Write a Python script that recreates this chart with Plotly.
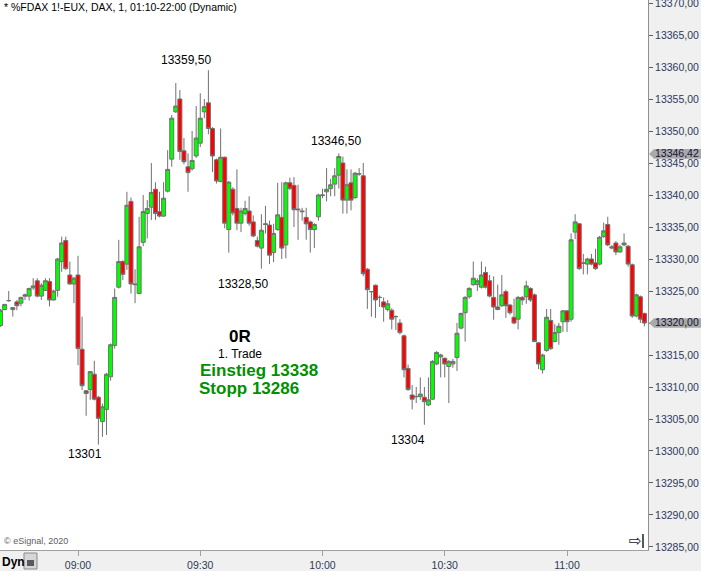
import pandas as pd
import plotly.graph_objects as go

# ---------------- data (1-minute FDAX bars) ----------------
start_time = "2020-11-18 08:41"

opens = [13319.6, 13322.1, 13323.5, 13322.1, 13323.3, 13323.1, 13324.4, 13324.2, 13325.5, 13326.6,
         13324.2, 13325.1, 13326.5, 13323.6, 13325.1, 13329.6, 13332.9, 13327.5, 13326.1, 13327.5,
         13315.9, 13309.4, 13309.6, 13312.0, 13308.4, 13304.6, 13306.5, 13311.6, 13316.5, 13325.6,
         13329.6, 13329.2, 13339.0, 13326.1, 13324.6, 13332.6, 13337.1, 13338.1, 13340.9, 13337.4,
         13336.7, 13340.6, 13345.6, 13353.0, 13355.0, 13346.9, 13344.4, 13344.1, 13346.1, 13348.1,
         13353.0, 13354.4, 13350.4, 13345.5, 13342.1, 13345.9, 13334.6, 13340.9, 13337.9, 13335.6,
         13337.1, 13337.5, 13335.8, 13332.9, 13331.7, 13335.5, 13335.3, 13331.0, 13334.6, 13336.5,
         13332.2, 13341.9, 13341.5, 13337.8, 13337.5, 13336.5, 13335.8, 13334.6, 13336.6, 13339.9,
         13340.5, 13341.0, 13341.7, 13343.1, 13345.0, 13339.2, 13341.9, 13339.6, 13343.3, 13343.0,
         13328.4, 13324.9, 13325.9, 13324.0, 13323.3, 13322.1, 13322.0, 13321.0, 13320.0, 13318.0,
         13312.9, 13308.75, 13308.5, 13308.5, 13308.4, 13307.2, 13308.1, 13313.6, 13314.7, 13314.5,
         13313.2, 13313.6, 13314.6, 13319.2, 13321.6, 13324.1, 13326.0, 13326.0, 13325.6, 13327.9,
         13326.6, 13324.0, 13322.5, 13322.7, 13324.9, 13322.8, 13320.9, 13320.6, 13324.0, 13324.1,
         13325.4, 13324.4, 13316.9, 13312.7, 13315.7, 13320.4, 13317.1, 13318.5, 13320.2, 13321.9,
         13320.6, 13334.2, 13335.5, 13329.4, 13329.2, 13330.0, 13329.4, 13329.2, 13333.5, 13335.4,
         13331.7, 13332.5, 13331.1, 13332.2, 13332.0, 13329.1, 13321.1, 13324.1, 13321.5]

highs = [13322.2, 13323.0, 13325.0, 13322.5, 13323.6, 13324.1, 13324.6, 13325.5, 13327.0, 13327.0,
         13326.2, 13327.0, 13327.0, 13325.2, 13330.2, 13333.5, 13333.5, 13329.6, 13327.2, 13330.5,
         13321.0, 13309.5, 13312.5, 13314.1, 13308.6, 13307.4, 13312.2, 13316.8, 13325.4, 13333.0,
         13329.8, 13340.5, 13339.6, 13328.4, 13336.6, 13340.0, 13339.2, 13345.0, 13342.0, 13340.5,
         13342.0, 13347.0, 13352.5, 13357.5, 13356.4, 13348.9, 13346.5, 13350.0, 13353.9, 13355.9,
         13355.0, 13359.5, 13350.6, 13345.7, 13350.4, 13346.0, 13342.2, 13341.2, 13344.0, 13338.0,
         13339.1, 13339.8, 13336.8, 13333.5, 13337.0, 13338.3, 13336.0, 13335.5, 13341.9, 13342.0,
         13342.1, 13342.7, 13342.8, 13341.6, 13338.0, 13338.0, 13336.0, 13335.6, 13340.2, 13341.0,
         13344.2, 13342.5, 13344.2, 13346.5, 13346.0, 13344.0, 13344.0, 13343.6, 13344.2, 13345.0,
         13328.6, 13325.0, 13326.0, 13324.3, 13324.0, 13323.6, 13322.3, 13321.2, 13320.6, 13318.2,
         13313.5, 13310.3, 13310.0, 13311.5, 13310.0, 13311.5, 13314.2, 13315.6, 13315.2, 13314.6,
         13314.2, 13314.4, 13320.0, 13321.6, 13324.2, 13325.6, 13329.6, 13327.0, 13329.6, 13328.8,
         13327.5, 13327.3, 13326.0, 13327.5, 13325.2, 13323.0, 13323.8, 13324.2, 13324.2, 13326.6,
         13325.6, 13324.6, 13317.0, 13315.2, 13322.2, 13322.2, 13319.8, 13320.0, 13322.0, 13322.0,
         13334.0, 13337.0, 13335.6, 13330.8, 13330.2, 13330.8, 13331.6, 13333.6, 13335.7, 13336.6,
         13332.2, 13332.8, 13332.2, 13334.0, 13332.2, 13329.3, 13324.6, 13324.3, 13321.6]

lows = [13319.4, 13322.0, 13323.3, 13321.0, 13322.0, 13322.6, 13323.6, 13323.5, 13325.2, 13324.0,
        13323.6, 13325.0, 13322.6, 13323.5, 13324.1, 13328.0, 13328.3, 13326.0, 13323.1, 13313.4,
        13309.5, 13305.5, 13308.0, 13307.9, 13301.0, 13302.2, 13302.5, 13311.0, 13316.0, 13325.4,
        13326.7, 13328.3, 13324.6, 13323.1, 13324.5, 13332.0, 13333.2, 13336.1, 13336.1, 13336.5,
        13336.6, 13340.4, 13344.4, 13352.8, 13345.5, 13344.8, 13340.5, 13343.8, 13345.8, 13347.5,
        13352.0, 13349.5, 13343.6, 13341.8, 13342.0, 13334.8, 13331.0, 13336.8, 13334.5, 13334.2,
        13336.8, 13335.2, 13333.4, 13331.8, 13328.5, 13334.0, 13329.2, 13329.5, 13334.4, 13330.0,
        13330.1, 13340.8, 13335.0, 13333.0, 13336.0, 13333.0, 13331.0, 13331.7, 13336.0, 13339.5,
        13339.0, 13339.8, 13339.8, 13341.0, 13337.1, 13337.1, 13337.6, 13339.4, 13343.0, 13327.3,
        13322.2, 13321.0, 13320.8, 13322.5, 13320.2, 13321.8, 13319.0, 13318.9, 13318.2, 13311.5,
        13309.4, 13306.5, 13307.5, 13308.0, 13304.1, 13307.0, 13308.0, 13313.4, 13311.5, 13311.5,
        13307.5, 13313.0, 13312.5, 13319.0, 13317.1, 13323.8, 13325.8, 13325.0, 13325.4, 13325.4,
        13324.0, 13320.5, 13322.0, 13322.5, 13320.8, 13321.3, 13319.8, 13319.0, 13322.8, 13323.0,
        13323.3, 13317.0, 13312.8, 13312.1, 13315.5, 13315.8, 13317.0, 13316.6, 13318.6, 13318.6,
        13320.2, 13333.1, 13328.3, 13327.6, 13327.6, 13329.0, 13328.3, 13329.0, 13333.3, 13332.0,
        13331.5, 13330.6, 13331.0, 13332.0, 13328.8, 13320.8, 13320.9, 13320.0, 13319.5]

closes = [13322.0, 13322.9, 13323.5, 13322.4, 13322.7, 13324.0, 13324.2, 13325.4, 13325.8, 13324.2,
          13325.9, 13326.6, 13323.6, 13325.0, 13330.0, 13332.5, 13328.5, 13326.1, 13327.0, 13316.0,
          13310.2, 13309.0, 13312.4, 13308.1, 13305.1, 13306.9, 13312.0, 13316.6, 13324.0, 13329.6,
          13327.6, 13338.4, 13326.1, 13326.0, 13331.9, 13337.4, 13337.9, 13340.4, 13337.1, 13336.7,
          13339.5, 13344.0, 13352.0, 13353.9, 13346.8, 13345.2, 13343.5, 13345.4, 13348.9, 13352.0,
          13353.8, 13350.4, 13346.1, 13342.2, 13345.9, 13335.6, 13342.0, 13337.2, 13335.6, 13337.5,
          13337.9, 13335.6, 13333.6, 13332.0, 13334.5, 13335.4, 13330.6, 13334.0, 13336.9, 13331.7,
          13341.9, 13341.0, 13337.7, 13337.7, 13337.4, 13335.5, 13334.6, 13335.4, 13340.0, 13340.0,
          13340.9, 13341.6, 13343.0, 13346.0, 13339.2, 13341.6, 13339.2, 13343.4, 13343.3, 13327.7,
          13325.2, 13324.9, 13323.6, 13324.0, 13322.5, 13323.0, 13320.6, 13321.0, 13318.5, 13312.7,
          13309.6, 13308.1, 13308.5, 13308.9, 13307.7, 13308.0, 13314.0, 13315.4, 13315.0, 13313.6,
          13314.0, 13314.0, 13318.4, 13321.5, 13324.0, 13325.4, 13327.0, 13326.6, 13327.5, 13325.6,
          13324.2, 13322.5, 13322.1, 13324.4, 13322.7, 13321.6, 13320.0, 13324.0, 13323.6, 13325.8,
          13323.6, 13317.1, 13313.6, 13315.0, 13320.9, 13316.0, 13318.5, 13319.5, 13321.9, 13320.2,
          13333.0, 13335.8, 13328.5, 13329.3, 13330.0, 13329.2, 13328.5, 13333.4, 13334.4, 13332.2,
          13331.9, 13331.1, 13331.9, 13332.5, 13329.2, 13321.1, 13324.4, 13320.6, 13320.0]

price_ticks = list(range(13285, 13371, 5))
time_tick_labels = ["09:00", "09:30", "10:00", "10:30", "11:00"]

# labelled extremes: (bar index, price, text, side)
extreme_labels = [(51, 13359.5, "13359,50", "top"),
                  (83, 13346.5, "13346,50", "top"),
                  (64, 13328.5, "13328,50", "bottom"),
                  (24, 13301.0, "13301", "bottom"),
                  (104, 13304.1, "13304", "bottom")]

price_tags = [(13346.42, "13346,42"), (13320.00, "13320,00")]

title_text = "* %FDAX 1!-EUX, DAX, 1, 01:10-22:00 (Dynamic)"
# ------------------------------------------------------------------------------------

# label pixel offsets (style only), keyed by label text
label_offsets = {"13359,50": (-22, 1), "13346,50": (-3, 3), "13328,50": (-18, -6),
                 "13301": (-13, 0), "13304": (-16, -6)}

times = pd.date_range(start_time, periods=len(opens), freq="1min")
day = times[0].strftime("%Y-%m-%d")
tick_vals = [pd.Timestamp(f"{day} {t}") for t in time_tick_labels]

FONT = "Arial, Liberation Sans, sans-serif"
PLOT_W = 648.0
PLOT_H = 550.0
PX_PER_MIN = 4.075

fig = go.Figure()
fig.add_trace(go.Candlestick(
    x=times, open=opens, high=highs, low=lows, close=closes,
    increasing=dict(fillcolor="#00ff00", line=dict(color="#707070", width=1)),
    decreasing=dict(fillcolor="#ff0000", line=dict(color="#707070", width=1)),
    whiskerwidth=0, showlegend=False, hoverinfo="skip",
))

t0900 = pd.Timestamp(f"{day} 09:00")
x_start = t0900 - pd.Timedelta(minutes=78 / PX_PER_MIN)
x_end = t0900 + pd.Timedelta(minutes=(PLOT_W - 78) / PX_PER_MIN)

fig.update_layout(
    width=701, height=571,
    margin=dict(l=0, r=53, t=0, b=21, pad=0),
    paper_bgcolor="#f0f0f0", plot_bgcolor="white",
    separators=",.",
    boxgap=0.02, boxgroupgap=0,
    font=dict(family=FONT, size=11, color="#000000"),
    xaxis=dict(
        type="date", range=[x_start, x_end], rangeslider=dict(visible=False),
        tickvals=tick_vals, ticktext=time_tick_labels,
        ticks="outside", ticklen=5, tickcolor="#a0a0a0",
        showgrid=False, zeroline=False, automargin=False,
        showline=True, linecolor="#a0a0a0", linewidth=1,
        tickfont=dict(family=FONT, size=10.5, color="#2c3a58"),
        fixedrange=True,
    ),
    yaxis=dict(
        side="right", range=[13284.53, 13370.47],
        tickvals=price_ticks, tickformat=".2f",
        ticks="outside", ticklen=4, tickcolor="#606060",
        showgrid=False, zeroline=False, automargin=False,
        ticklabeloverflow="allow",
        showline=True, linecolor="#909090", linewidth=1,
        tickfont=dict(family=FONT, size=10.5, color="#2c3a58"),
        fixedrange=True,
    ),
)

annotations = []
# extreme labels
for idx, price, text, side in extreme_labels:
    dx, dy = label_offsets[text]
    annotations.append(dict(
        x=times[idx], y=price, xref="x", yref="y", text=text, showarrow=False,
        xanchor="center", yanchor="bottom" if side == "top" else "top",
        yshift=dy, xshift=dx,
        font=dict(family=FONT, size=12, color="#000000"),
    ))

# trade text block
def px_to_paper(px, py):
    return px / PLOT_W, 1 - py / PLOT_H

for (px, py), text, size, color, bold in [
    ((240, 336), "0R", 17, "#000000", True),
    ((240, 354), "1. Trade", 12, "#000000", False),
    ((259, 370), "Einstieg 13338", 17, "#009000", True),
    ((249, 388), "Stopp 13286", 17, "#009000", True),
]:
    xp, yp = px_to_paper(px, py)
    annotations.append(dict(
        x=xp, y=yp, xref="paper", yref="paper", showarrow=False,
        text=f"<b>{text}</b>" if bold else text,
        xanchor="center", yanchor="middle",
        font=dict(family=FONT, size=size, color=color),
    ))

# title
annotations.append(dict(x=0.003, y=1 - 7 / PLOT_H, xref="paper", yref="paper", text=title_text,
                        showarrow=False, xanchor="left", yanchor="middle",
                        font=dict(family=FONT, size=10.5, color="#000000")))
# copyright
annotations.append(dict(x=0.003, y=1 - 541 / PLOT_H, xref="paper", yref="paper", text="© eSignal, 2020",
                        showarrow=False, xanchor="left", yanchor="middle",
                        font=dict(family=FONT, size=9, color="#606060")))
# Dyn label
annotations.append(dict(x=0.0, y=1 - 562 / PLOT_H, xref="paper", yref="paper", text="<b>Dyn</b>",
                        showarrow=False, xanchor="left", yanchor="middle",
                        font=dict(family=FONT, size=12, color="#000000")))
# scroll icon
annotations.append(dict(x=635 / PLOT_W, y=1 - 541 / PLOT_H, xref="paper", yref="paper", text="⇨",
                        showarrow=False, xanchor="center", yanchor="middle",
                        font=dict(family="DejaVu Sans", size=15, color="#202020")))

shapes = []
# price tags on the right axis
half = 0.75
for price, text in price_tags:
    x0 = 1 + 1 / PLOT_W
    x1 = 1 + 6 / PLOT_W
    x2 = 1 + 53 / PLOT_W
    shapes.append(dict(
        type="path", xref="paper", yref="y",
        path=f"M {x0} {price} L {x1} {price + half} L {x2} {price + half} L {x2} {price - half} L {x1} {price - half} Z",
        fillcolor="#a9a9a9", line=dict(width=0), layer="above",
    ))
    annotations.append(dict(
        x=1 + 5 / PLOT_W, y=price, xref="paper", yref="y", text=text, showarrow=False,
        xanchor="left", yanchor="middle", yshift=1,
        font=dict(family=FONT, size=10.5, color="#14143a"),
    ))

# lock button next to "Dyn"
shapes.append(dict(type="rect", xref="paper", yref="paper",
                   x0=24 / PLOT_W, x1=37 / PLOT_W, y0=1 - 569 / PLOT_H, y1=1 - 553 / PLOT_H,
                   fillcolor="#d6d6d6", line=dict(color="#8a8a8a", width=1)))
shapes.append(dict(type="rect", xref="paper", yref="paper",
                   x0=27 / PLOT_W, x1=34 / PLOT_W, y0=1 - 566 / PLOT_H, y1=1 - 560 / PLOT_H,
                   fillcolor="#5a5a5a", line=dict(width=0)))
# scroll icon bar
shapes.append(dict(type="line", xref="paper", yref="paper",
                   x0=643 / PLOT_W, x1=643 / PLOT_W, y0=1 - 548 / PLOT_H, y1=1 - 534 / PLOT_H,
                   line=dict(color="#202020", width=1.5)))

fig.update_layout(annotations=annotations, shapes=shapes)
fig.write_html(
    "out.html",
    config={"displayModeBar": False},
    post_script="document.body.style.margin='0';document.body.style.overflow='hidden';",
)
